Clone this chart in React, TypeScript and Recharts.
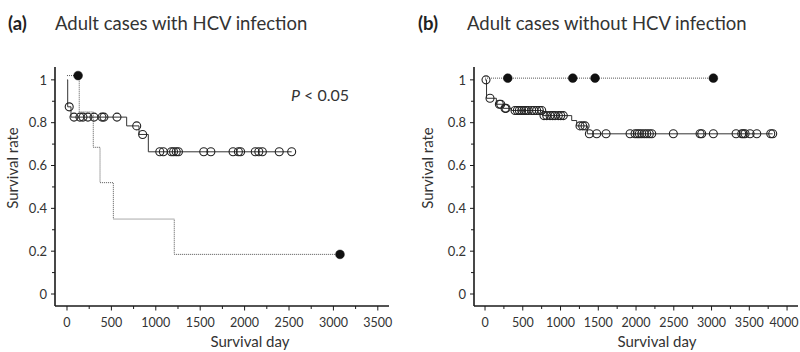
import React from 'react';
import { ComposedChart, Line, XAxis, YAxis } from 'recharts';

const FONT = 'Lato, "Open Sans", sans-serif';
const TEXT = '#333333';
const AXIS = '#1a1a1a';

// ---- tick values ----
const yTicks = [0, 0.1, 0.2, 0.3, 0.4, 0.5, 0.6, 0.7, 0.8, 0.9, 1];
const xTicksA = [0, 250, 500, 750, 1000, 1250, 1500, 1750, 2000, 2250, 2500, 2750, 3000, 3250, 3500];
const xTicksB = [0, 250, 500, 750, 1000, 1250, 1500, 1750, 2000, 2250, 2500, 2750, 3000, 3250, 3500, 3750, 4000];

// ---- panel (a): adult cases with HCV infection ----
const stepSolidA = [
  { day: 0, rate: 1 },
  { day: 8, rate: 0.874 },
  { day: 45, rate: 0.826 },
  { day: 672, rate: 0.785 },
  { day: 811, rate: 0.745 },
  { day: 916, rate: 0.664 },
  { day: 2530, rate: 0.664 },
];
const censorLevelsA: [number, number[]][] = [
  [0.874, [25]],
  [0.826, [79, 146, 180, 236, 304, 394, 416, 563]],
  [0.785, [785]],
  [0.745, [852]],
  [0.664, [1045, 1085, 1175, 1200, 1230, 1255, 1540, 1620, 1870, 1930, 1955, 2120, 2160, 2200, 2390, 2530]],
];
const stepDottedA = [
  { day: 0, rate: 1.02 },
  { day: 138, rate: 0.85 },
  { day: 296, rate: 0.685 },
  { day: 372, rate: 0.52 },
  { day: 522, rate: 0.35 },
  { day: 1208, rate: 0.185 },
  { day: 3074, rate: 0.185 },
];
const filledA = [
  { day: 125, rate: 1.02 },
  { day: 3074, rate: 0.185 },
];

// ---- panel (b): adult cases without HCV infection ----
const stepSolidB = [
  { day: 0, rate: 1 },
  { day: 20, rate: 0.914 },
  { day: 150, rate: 0.886 },
  { day: 240, rate: 0.867 },
  { day: 350, rate: 0.857 },
  { day: 765, rate: 0.833 },
  { day: 1148, rate: 0.81 },
  { day: 1214, rate: 0.785 },
  { day: 1355, rate: 0.748 },
  { day: 3810, rate: 0.748 },
];
const censorLevelsB: [number, number[]][] = [
  [1, [13]],
  [0.914, [66]],
  [0.886, [190, 208]],
  [0.867, [265, 278]],
  [0.857, [397, 428, 455, 486, 517, 543, 574, 618, 649, 684, 719, 751]],
  [0.833, [781, 817, 861, 896, 927, 971, 1003, 1037]],
  [0.785, [1258, 1294, 1325]],
  [0.748, [1382, 1479, 1603, 1921, 1987, 2017, 2044, 2075, 2110, 2142, 2176, 2208, 2494, 2848, 2870, 3024, 3325, 3400, 3421, 3444, 3510, 3599, 3784, 3810]],
];
const stepDottedB = [
  { day: 0, rate: 1.008 },
  { day: 3024, rate: 1.008 },
];
const filledB = [
  { day: 301, rate: 1.008 },
  { day: 1162, rate: 1.008 },
  { day: 1457, rate: 1.008 },
  { day: 3024, rate: 1.008 },
];

const toPoints = (levels: [number, number[]][]) =>
  levels.flatMap(([rate, days]) => days.map((day) => ({ day, rate })));

const YTick = (props: any) => {
  const { x, y, payload } = props;
  const v: number = payload.value;
  const major = Math.round(v * 10) % 2 === 0;
  return (
    <g>
      <line x1={x - (major ? 4 : 3)} x2={x} y1={y} y2={y} stroke={AXIS} strokeWidth={1} />
      {major && (
        <text x={x - 8} y={y} dy="0.36em" textAnchor="end" fontSize={13} fill={TEXT} fontFamily={FONT}>
          {String(Number(v.toFixed(1)))}
        </text>
      )}
    </g>
  );
};

const XTick = (props: any) => {
  const { x, y, payload, maxX } = props;
  const v: number = payload.value;
  const major = v % 500 === 0;
  const lx = Math.min(x, (maxX ?? 10000) - 15);
  return (
    <g>
      <line x1={x} x2={x} y1={y} y2={y + (major ? 4.5 : 3)} stroke={AXIS} strokeWidth={1} />
      {major && (
        <text x={lx} y={y + 21} textAnchor="middle" fontSize={12.5} fill={TEXT} fontFamily={FONT}>
          {v}
        </text>
      )}
    </g>
  );
};

const openDot = { r: 4, fill: 'none', stroke: '#222', strokeWidth: 1.1 };
const filledDot = { r: 4.4, fill: '#111', stroke: '#111', strokeWidth: 0.5 };

type PanelProps = {
  margin: { top: number; right: number; bottom: number; left: number };
  domainX: [number, number];
  xTicks: number[];
  solid: { day: number; rate: number }[];
  censored: { day: number; rate: number }[];
  dotted: { day: number; rate: number }[];
  filled: { day: number; rate: number }[];
};

const Panel = ({ margin, domainX, xTicks, solid, censored, dotted, filled }: PanelProps) => (
  <ComposedChart width={400} height={352} margin={margin}>
    <XAxis
      type="number"
      dataKey="day"
      domain={domainX}
      ticks={xTicks}
      interval={0}
      tick={<XTick maxX={399} />}
      tickLine={false}
      tickSize={0}
      tickMargin={0}
      height={30}
      axisLine={{ stroke: AXIS, strokeWidth: 1.6 }}
      allowDataOverflow
    />
    <YAxis
      type="number"
      dataKey="rate"
      domain={[-0.056, 1.06]}
      ticks={yTicks}
      interval={0}
      tick={<YTick />}
      tickLine={false}
      tickSize={0}
      tickMargin={0}
      width={40}
      axisLine={{ stroke: AXIS, strokeWidth: 1.6 }}
      allowDataOverflow
    />
    <Line
      data={dotted}
      dataKey="rate"
      type="stepAfter"
      stroke="#555"
      strokeWidth={1}
      strokeDasharray="1 1"
      dot={false}
      isAnimationActive={false}
    />
    <Line
      data={solid}
      dataKey="rate"
      type="stepAfter"
      stroke="#333"
      strokeWidth={1}
      dot={false}
      isAnimationActive={false}
    />
    <Line
      data={censored}
      dataKey="rate"
      stroke="none"
      strokeWidth={0}
      dot={openDot}
      activeDot={false}
      isAnimationActive={false}
    />
    <Line
      data={filled}
      dataKey="rate"
      stroke="none"
      strokeWidth={0}
      dot={filledDot}
      activeDot={false}
      isAnimationActive={false}
    />
  </ComposedChart>
);

export default function App() {
  return (
    <div style={{ position: 'absolute', left: 0, top: 0, width: 800, height: 352, background: '#fff' }}>
      <div style={{ position: 'absolute', left: 0, top: 0 }}>
        <Panel
          margin={{ top: 67, right: 11, bottom: 16, left: 15 }}
          domainX={[-135, 3626]}
          xTicks={xTicksA}
          solid={stepSolidA}
          censored={toPoints(censorLevelsA)}
          dotted={stepDottedA}
          filled={filledA}
        />
      </div>
      <div style={{ position: 'absolute', left: 400, top: 0 }}>
        <Panel
          margin={{ top: 67, right: 2, bottom: 16, left: 34 }}
          domainX={[-146, 4145]}
          xTicks={xTicksB}
          solid={stepSolidB}
          censored={toPoints(censorLevelsB)}
          dotted={stepDottedB}
          filled={filledB}
        />
      </div>
      <svg
        width={800}
        height={352}
        style={{ position: 'absolute', left: 0, top: 0, pointerEvents: 'none' }}
      >
        <g fontFamily={FONT} fill={TEXT}>
          <text x={8} y={30} fontSize={18.5} fontWeight={700} fill="#222">(a)</text>
          <text x={55} y={30} fontSize={18.5}>Adult cases with HCV infection</text>
          <text x={418} y={30} fontSize={18.5} fontWeight={700} fill="#222">(b)</text>
          <text x={467} y={30} fontSize={18.5}>Adult cases without HCV infection</text>
          <text x={291} y={101} fontSize={16}>
            <tspan fontStyle="italic">P</tspan> &lt; 0.05
          </text>
          <text x={250} y={347} fontSize={15} textAnchor="middle">Survival day</text>
          <text x={657} y={347} fontSize={15} textAnchor="middle">Survival day</text>
          <text x={18} y={168} fontSize={15} textAnchor="middle" transform="rotate(-90 18 168)">Survival rate</text>
          <text x={433} y={168} fontSize={15} textAnchor="middle" transform="rotate(-90 433 168)">Survival rate</text>
        </g>
      </svg>
    </div>
  );
}
